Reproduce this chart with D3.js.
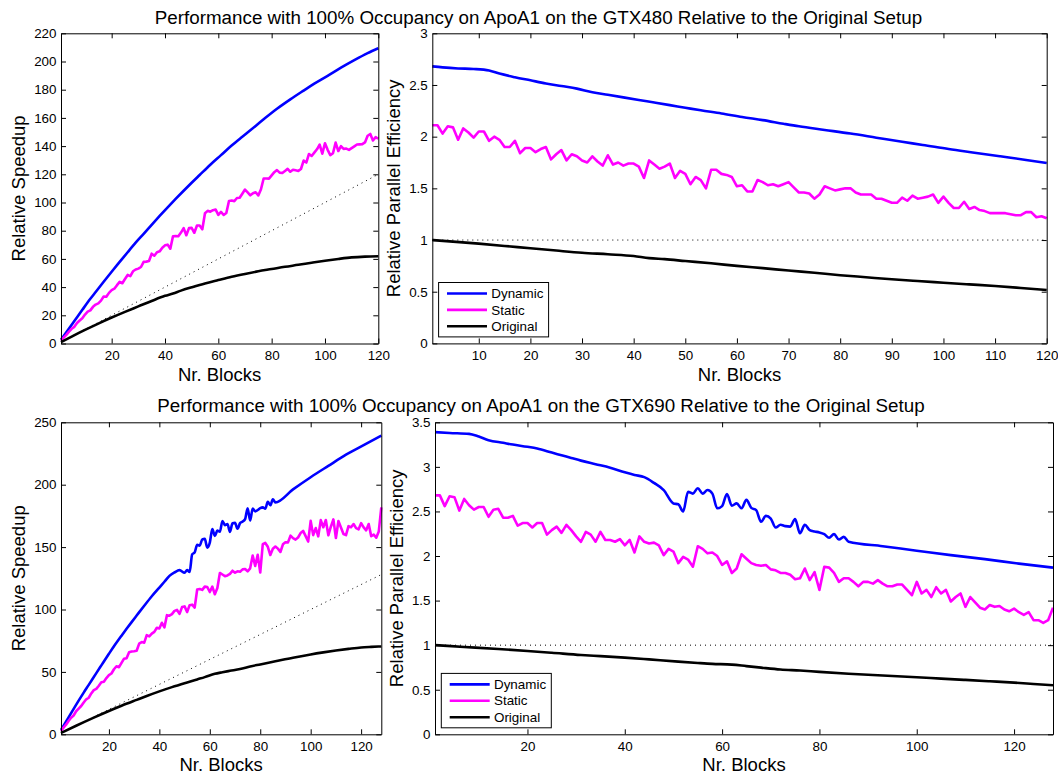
<!DOCTYPE html>
<html>
<head>
<meta charset="utf-8">
<script src="https://cdn.jsdelivr.net/npm/d3@7"></script>
<style>
    body { margin: 0; background: #fff; }
    text { font-family: "Liberation Sans", Arial, Helvetica, sans-serif; }
</style>
</head>
<body>
<svg id="chart" width="1058" height="774"></svg>
<script>
// Parallel efficiency; speedup (left panels) = efficiency * blocks.

// GTX480, blocks 1..120
var dynamic480 = [[1, 2.68], [3, 2.67], [6, 2.66], [9, 2.655], [12, 2.64], [14, 2.61], [17, 2.575],
    [20, 2.545], [23, 2.515], [26, 2.49], [29, 2.465], [32, 2.43], [35, 2.405], [38, 2.38], [41, 2.355],
    [44, 2.33], [47, 2.305], [50, 2.28], [53, 2.255], [57, 2.225], [61, 2.19], [65, 2.16], [69, 2.125],
    [72, 2.10], [77, 2.065], [82, 2.03], [87, 1.99], [92, 1.95], [96, 1.92], [101, 1.88], [106, 1.845],
    [111, 1.81], [116, 1.775], [120, 1.745]];
var static480 = [
    2.11, 2.11, 2.03, 2.10, 2.09, 1.97, 2.08, 2.04, 1.99, 2.05,
    2.05, 1.96, 2.00, 1.97, 1.90, 1.90, 1.96, 1.84, 1.89, 1.89,
    1.85, 1.88, 1.90, 1.78, 1.83, 1.87, 1.77, 1.83, 1.81, 1.77,
    1.75, 1.81, 1.76, 1.72, 1.82, 1.73, 1.75, 1.72, 1.74, 1.74,
    1.71, 1.60, 1.77, 1.73, 1.69, 1.71, 1.74, 1.60, 1.67, 1.64,
    1.54, 1.61, 1.58, 1.50, 1.68, 1.68, 1.64, 1.63, 1.61, 1.52,
    1.53, 1.47, 1.47, 1.58, 1.56, 1.53, 1.54, 1.52, 1.54, 1.56,
    1.51, 1.46, 1.46, 1.45, 1.40, 1.44, 1.52, 1.50, 1.48, 1.49,
    1.50, 1.50, 1.46, 1.44, 1.44, 1.44, 1.40, 1.40, 1.38, 1.36,
    1.36, 1.41, 1.38, 1.43, 1.40, 1.41, 1.42, 1.44, 1.36, 1.42,
    1.36, 1.31, 1.31, 1.37, 1.30, 1.32, 1.29, 1.28, 1.26, 1.26,
    1.26, 1.26, 1.25, 1.24, 1.24, 1.27, 1.27, 1.22, 1.23, 1.21];
var original480 = [[1, 1.0], [5, 0.985], [10, 0.965], [15, 0.943], [20, 0.92], [25, 0.898], [30, 0.877],
    [35, 0.862], [40, 0.845], [43, 0.825], [46, 0.815], [50, 0.797], [55, 0.775], [60, 0.75], [65, 0.728],
    [70, 0.705], [75, 0.683], [80, 0.66], [85, 0.64], [90, 0.62], [95, 0.603], [100, 0.587], [105, 0.571],
    [110, 0.555], [115, 0.536], [120, 0.516]];

// GTX690, blocks 1..128
var dynamic690 = [[1, 3.39], [4, 3.38], [8, 3.37], [10, 3.34], [12, 3.30], [15, 3.27], [17, 3.25],
    [20, 3.225], [22, 3.205], [25, 3.16], [27, 3.13], [29, 3.10], [31, 3.07], [34, 3.03], [37, 2.99],
    [40, 2.94], [42, 2.91], [44, 2.885], [46, 2.82], [48, 2.74], [50, 2.59], [51, 2.58], [52, 2.50],
    [53, 2.72], [54, 2.70], [55, 2.76], [56, 2.70], [57, 2.74], [58, 2.70], [59, 2.535], [60, 2.56],
    [61, 2.695], [62, 2.565], [63, 2.59], [64, 2.535], [65, 2.63], [66, 2.54], [67, 2.515], [68, 2.385],
    [69, 2.45], [70, 2.42], [71, 2.32], [72, 2.35], [73, 2.335], [74, 2.33], [75, 2.415], [76, 2.255],
    [77, 2.35], [78, 2.29], [79, 2.275], [80, 2.265], [81, 2.245], [82, 2.205], [83, 2.245], [84, 2.185],
    [85, 2.215], [86, 2.16], [93, 2.11], [100, 2.06], [107, 2.01], [114, 1.965], [121, 1.915], [128, 1.87]];
var static690 = [
    2.68, 2.68, 2.56, 2.67, 2.66, 2.51, 2.64, 2.57, 2.52, 2.55,
    2.55, 2.44, 2.52, 2.53, 2.43, 2.43, 2.45, 2.34, 2.37, 2.37,
    2.32, 2.37, 2.37, 2.24, 2.29, 2.33, 2.26, 2.35, 2.29, 2.22,
    2.16, 2.27, 2.24, 2.16, 2.27, 2.18, 2.18, 2.16, 2.19, 2.12,
    2.18, 2.04, 2.22, 2.16, 2.14, 2.15, 2.12, 2.01, 2.08, 2.05,
    1.92, 1.99, 1.96, 1.88, 2.11, 2.08, 2.03, 2.04, 2.00, 1.90,
    1.94, 1.81, 1.86, 2.02, 1.97, 1.92, 1.90, 1.89, 1.90, 1.85,
    1.84, 1.81, 1.81, 1.79, 1.74, 1.75, 1.86, 1.73, 1.82, 1.62,
    1.88, 1.87, 1.81, 1.71, 1.75, 1.75, 1.71, 1.66, 1.71, 1.71,
    1.69, 1.73, 1.69, 1.66, 1.66, 1.68, 1.68, 1.62, 1.56, 1.71,
    1.58, 1.62, 1.54, 1.65, 1.58, 1.62, 1.49, 1.54, 1.58, 1.43,
    1.54, 1.48, 1.42, 1.40, 1.45, 1.43, 1.44, 1.40, 1.38, 1.41,
    1.37, 1.34, 1.37, 1.28, 1.28, 1.25, 1.28, 1.42];
var original690 = [[1, 1.0], [7, 0.98], [14, 0.957], [20, 0.935], [25, 0.915], [31, 0.89], [35, 0.877],
    [40, 0.86], [45, 0.84], [51, 0.815], [55, 0.80], [58, 0.79], [62, 0.782], [65, 0.765], [68, 0.748],
    [72, 0.727], [76, 0.715], [80, 0.70], [86, 0.68], [93, 0.66], [100, 0.64], [105, 0.625], [110, 0.61],
    [115, 0.595], [120, 0.58], [124, 0.565], [128, 0.55]];

var seriesNames = ['Dynamic', 'Static', 'Original'];
var seriesColors = ['#0000ff', '#ff00ff', '#000000'];
// per-block noisy series are drawn straight; sparse readings get a smooth curve
var seriesSmooth = [true, false, true];
var titles = [
    'Performance with 100% Occupancy on ApoA1 on the GTX480 Relative to the Original Setup',
    'Performance with 100% Occupancy on ApoA1 on the GTX690 Relative to the Original Setup'
];

var fmt = d3.format('~g');
var svg = d3.select('#chart');

function indexed(vals) {
    return vals.map(function (v, i) { return [i + 1, v]; });
}

function toSpeedup(pts) {
    return pts.map(function (d) { return [d[0], d[0] * d[1]]; });
}

function drawPanel(box, cfg) {
    var w = box.r - box.l,
        h = box.b - box.t,
        g = svg.append('g').attr('transform', 'translate(' + box.l + ',' + box.t + ')'),
        x = d3.scaleLinear().domain([1, cfg.maxBlocks]).range([0, w]),
        y = d3.scaleLinear().domain([0, cfg.yMax]).range([h, 0]),
        line = d3.line().x(function (d) { return x(d[0]); }).y(function (d) { return y(d[1]); });

    g.append('path')
        .attr('d', line(cfg.ideal))
        .attr('fill', 'none')
        .attr('stroke', '#000')
        .attr('stroke-width', 1)
        .attr('stroke-dasharray', '1,4');

    cfg.series.forEach(function (s, i) {
        line.curve(seriesSmooth[i] ? d3.curveMonotoneX : d3.curveLinear);
        g.append('path')
            .attr('d', line(s))
            .attr('fill', 'none')
            .attr('stroke', seriesColors[i])
            .attr('stroke-width', 2.6)
            .attr('stroke-linejoin', 'round');
    });

    var axes = [
        g.append('g').attr('transform', 'translate(0,' + h + ')')
            .call(d3.axisBottom(x).tickValues(cfg.xTicks).tickSizeInner(-5).tickSizeOuter(0)
                .tickPadding(7).tickFormat(fmt)),
        g.append('g')
            .call(d3.axisTop(x).tickValues(cfg.xTicks).tickSizeInner(-5).tickSizeOuter(0).tickFormat('')),
        g.append('g')
            .call(d3.axisLeft(y).tickValues(cfg.yTicks).tickSizeInner(-5).tickSizeOuter(0)
                .tickPadding(4.5).tickFormat(fmt)),
        g.append('g').attr('transform', 'translate(' + w + ',0)')
            .call(d3.axisRight(y).tickValues(cfg.yTicks).tickSizeInner(-5).tickSizeOuter(0).tickFormat(''))
    ];
    axes.forEach(function (a) {
        a.attr('font-size', 13.4)
            .attr('font-family', '"Liberation Sans", Arial, sans-serif');
        a.selectAll('text').attr('fill', '#000');
    });

    // axis labels
    svg.append('text')
        .attr('x', (box.l + box.r) / 2)
        .attr('y', cfg.xLabelY)
        .attr('text-anchor', 'middle')
        .attr('font-size', 18.5)
        .text('Nr. Blocks');
    svg.append('text')
        .attr('transform', 'translate(' + cfg.yLabelX + ',' + ((box.t + box.b) / 2) + ') rotate(-90)')
        .attr('text-anchor', 'middle')
        .attr('font-size', 18.5)
        .text(cfg.yLabel);

    if (cfg.legend) {
        var lg = g.append('g').attr('transform', 'translate(6.3,' + (h - 6.5 - 54.4) + ')');
        lg.append('rect')
            .attr('width', 110).attr('height', 54.4)
            .attr('fill', '#fff').attr('stroke', '#000').attr('stroke-width', 1);
        seriesNames.forEach(function (name, i) {
            var ry = 11 + i * 16.4;
            lg.append('line')
                .attr('x1', 8.4).attr('x2', 48.4).attr('y1', ry).attr('y2', ry)
                .attr('stroke', seriesColors[i]).attr('stroke-width', 2.6);
            lg.append('text')
                .attr('x', 52.7).attr('y', ry).attr('dy', '0.35em')
                .attr('font-size', 13.4)
                .text(name);
        });
    }
}

var rows = [
    {
        title: titles[0], titleX: 538.5, titleY: 24, maxBlocks: 120, xLabelY: 380.5,
        eff: [dynamic480, indexed(static480), original480],
        left: {l: 61, t: 33.3, r: 378.3, b: 343.5}, leftYMax: 220, leftYTicks: d3.range(0, 221, 20),
        leftXTicks: d3.range(20, 121, 20), leftLabelX: 25,
        right: {l: 432.3, t: 33.3, r: 1046.7, b: 343.4}, rightYMax: 3, rightYTicks: [0, 0.5, 1, 1.5, 2, 2.5, 3],
        rightXTicks: d3.range(10, 121, 10), rightLabelX: 400
    },
    {
        title: titles[1], titleX: 541, titleY: 412, maxBlocks: 128, xLabelY: 770.5,
        eff: [dynamic690, indexed(static690), original690],
        left: {l: 61, t: 422.3, r: 381.3, b: 734.3}, leftYMax: 250, leftYTicks: d3.range(0, 251, 50),
        leftXTicks: d3.range(20, 121, 20), leftLabelX: 25,
        right: {l: 435, t: 422.3, r: 1053, b: 734.3}, rightYMax: 3.5,
        rightYTicks: [0, 0.5, 1, 1.5, 2, 2.5, 3, 3.5],
        rightXTicks: d3.range(20, 121, 20), rightLabelX: 402.5
    }
];

rows.forEach(function (row) {
    svg.append('text')
        .attr('x', row.titleX)
        .attr('y', row.titleY)
        .attr('text-anchor', 'middle')
        .attr('font-size', 18.8)
        .text(row.title);

    drawPanel(row.left, {
        maxBlocks: row.maxBlocks, yMax: row.leftYMax, yTicks: row.leftYTicks, xTicks: row.leftXTicks,
        yLabel: 'Relative Speedup', yLabelX: row.leftLabelX, xLabelY: row.xLabelY,
        series: row.eff.map(toSpeedup),
        ideal: [[1, 1], [row.maxBlocks, row.maxBlocks]],
        legend: false
    });

    drawPanel(row.right, {
        maxBlocks: row.maxBlocks, yMax: row.rightYMax, yTicks: row.rightYTicks, xTicks: row.rightXTicks,
        yLabel: 'Relative Parallel Efficiency', yLabelX: row.rightLabelX, xLabelY: row.xLabelY,
        series: row.eff,
        ideal: [[1, 1], [row.maxBlocks, 1]],
        legend: true
    });
});
</script>
</body>
</html>
